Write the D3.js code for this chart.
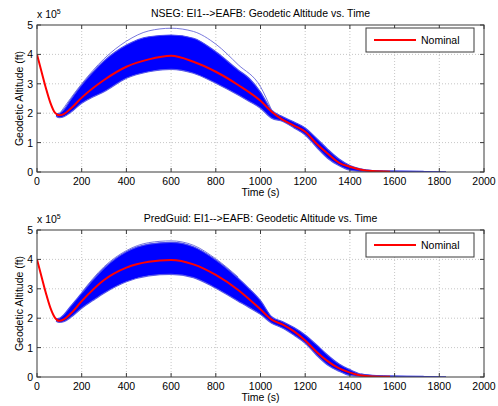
<!DOCTYPE html>
<html>
<head>
<meta charset="utf-8">
<script src="https://cdn.jsdelivr.net/npm/d3@7"></script>
<style>
  body { margin: 0; background: #fff; }
  text { font-family: "Liberation Sans", Arial, sans-serif; font-size: 10.5px; fill: #000; }
</style>
</head>
<body>
<div class="chart"></div>
<script>
// ticks
const xTicks = [0, 200, 400, 600, 800, 1000, 1200, 1400, 1600, 1800, 2000];
const yTicks = [0, 1, 2, 3, 4, 5];

// nominal trajectory (altitude in 1e5 ft)
const nomTime = [0, 20, 40, 60, 80, 100, 120, 150, 200, 300, 400, 500, 600, 700, 800, 900, 1000, 1050, 1100, 1150, 1200, 1250, 1300, 1350, 1400, 1450, 1500, 1580];
const nsegNominal = [4.0, 3.42, 2.85, 2.35, 2.02, 1.93, 1.97, 2.15, 2.53, 3.13, 3.58, 3.83, 3.95, 3.75, 3.41, 2.96, 2.42, 2.05, 1.77, 1.58, 1.37, 0.97, 0.63, 0.32, 0.18, 0.08, 0.03, 0.01];
const predNominal = [4.0, 3.42, 2.85, 2.35, 2.02, 1.91, 1.96, 2.15, 2.58, 3.3, 3.72, 3.92, 3.98, 3.83, 3.47, 2.96, 2.3, 1.95, 1.78, 1.55, 1.24, 0.86, 0.54, 0.3, 0.15, 0.05, 0.02, 0.01];

// dispersion envelope of the monte carlo runs
const bandTime = [85, 100, 120, 150, 200, 250, 300, 400, 500, 600, 700, 800, 900, 950, 1000, 1050, 1100, 1150, 1200, 1250, 1300, 1350, 1400, 1450, 1500, 1600, 1730];
const nsegUpper = [1.98, 2.0, 2.12, 2.45, 2.96, 3.4, 3.78, 4.32, 4.6, 4.66, 4.55, 4.09, 3.47, 3.18, 2.72, 2.1, 1.88, 1.7, 1.5, 1.15, 0.78, 0.45, 0.22, 0.1, 0.05, 0.03, 0.02];
const nsegLower = [1.9, 1.85, 1.88, 2.02, 2.34, 2.55, 2.73, 3.19, 3.41, 3.49, 3.36, 3.02, 2.62, 2.4, 2.17, 1.83, 1.72, 1.5, 1.26, 0.85, 0.47, 0.22, 0.06, 0.02, 0, 0, 0];
const predUpper = [1.98, 2.0, 2.12, 2.4, 2.85, 3.3, 3.7, 4.26, 4.52, 4.58, 4.43, 3.98, 3.36, 3.0, 2.6, 2.05, 1.88, 1.68, 1.43, 1.1, 0.75, 0.45, 0.25, 0.1, 0.06, 0.03, 0.02];
const predLower = [1.9, 1.86, 1.88, 2.02, 2.34, 2.6, 2.85, 3.24, 3.44, 3.49, 3.38, 3.02, 2.58, 2.36, 2.13, 1.83, 1.66, 1.42, 1.15, 0.75, 0.41, 0.2, 0.05, 0.02, 0, 0, 0];

// stray runs outside the dense band
const nsegOutTime = [100, 200, 300, 400, 500, 600, 700, 800, 900, 1000, 1050];
const nsegOutlier = [1.97, 3.0, 3.85, 4.45, 4.8, 4.89, 4.78, 4.35, 3.65, 2.9, 2.1];
const predOutTime = [200, 300, 400, 500, 600, 700, 800, 900];
const predOutlier = [2.88, 3.75, 4.3, 4.57, 4.63, 4.48, 4.02, 3.4];
const tailTime = [1450, 1500, 1600, 1700, 1830];
const tailAlt = [0.1, 0.05, 0.03, 0.02, 0.01];

const svg = d3.select(".chart")
  .append("svg")
  .attr("width", 498)
  .attr("height", 406);

const panels = [
  { title: "NSEG: EI1-->EAFB: Geodetic Altitude vs. Time", top: 25, nominal: nsegNominal, upper: nsegUpper, lower: nsegLower, outTime: nsegOutTime, outlier: nsegOutlier },
  { title: "PredGuid: EI1-->EAFB: Geodetic Altitude vs. Time", top: 230, nominal: predNominal, upper: predUpper, lower: predLower, outTime: predOutTime, outlier: predOutlier }
];

const left = 37, right = 484, plotH = 147;

panels.forEach((p, i) => drawPanel(p, i));

function drawPanel(p, i) {
  const x = d3.scaleLinear().domain([0, 2000]).range([0, right - left]);
  const y = d3.scaleLinear().domain([0, 5]).range([plotH, 0]);
  const w = right - left;

  const g = svg.append("g").attr("transform", `translate(${left},${p.top})`);

  g.append("clipPath").attr("id", "clip" + i)
    .append("rect").attr("width", w).attr("height", plotH);

  // grid
  g.selectAll("line.vgrid").data(xTicks.slice(1, -1)).join("line")
    .attr("x1", d => x(d)).attr("x2", d => x(d))
    .attr("y1", 0).attr("y2", plotH)
    .attr("stroke", "#b8b8b8").attr("stroke-width", 0.8).attr("stroke-dasharray", "1,2");
  g.selectAll("line.hgrid").data(yTicks.slice(1, -1)).join("line")
    .attr("x1", 0).attr("x2", w)
    .attr("y1", d => y(d)).attr("y2", d => y(d))
    .attr("stroke", "#b8b8b8").attr("stroke-width", 0.8).attr("stroke-dasharray", "1,2");

  const plot = g.append("g").attr("clip-path", `url(#clip${i})`);

  const band = bandTime.map((t, k) => ({ t: t, hi: p.upper[k], lo: p.lower[k] }));
  const area = d3.area().x(d => x(d.t)).y0(d => y(d.lo)).y1(d => y(d.hi)).curve(d3.curveMonotoneX);
  const line = d3.line().x(d => x(d[0])).y(d => y(d[1])).curve(d3.curveMonotoneX);

  plot.append("path").datum(band).attr("d", area).attr("fill", "#0000ff");
  plot.append("path").datum(band.map(d => [d.t, d.hi])).attr("d", line)
    .attr("fill", "none").attr("stroke", "#4a4af0").attr("stroke-width", 1.2);
  plot.append("path").datum(band.map(d => [d.t, d.lo])).attr("d", line)
    .attr("fill", "none").attr("stroke", "#5a5ae8").attr("stroke-width", 1.2);
  plot.append("path").datum(p.outTime.map((t, k) => [t, p.outlier[k]])).attr("d", line)
    .attr("fill", "none").attr("stroke", "#6a6ad8").attr("stroke-width", 0.9);
  plot.append("path").datum(tailTime.map((t, k) => [t, tailAlt[k]])).attr("d", line)
    .attr("fill", "none").attr("stroke", "#4040e0").attr("stroke-width", 1);

  // nominal
  plot.append("path").datum(nomTime.map((t, k) => [t, p.nominal[k]]))
    .attr("d", line)
    .attr("fill", "none").attr("stroke", "#ff0000").attr("stroke-width", 2);

  // box and inward ticks
  g.append("rect").attr("width", w).attr("height", plotH)
    .attr("fill", "none").attr("stroke", "#3a3a3a").attr("stroke-width", 1);
  const tk = 4;
  g.selectAll("line.xt").data(xTicks).join("line")
    .attr("x1", d => x(d)).attr("x2", d => x(d)).attr("y1", plotH).attr("y2", plotH - tk)
    .attr("stroke", "#3a3a3a");
  g.selectAll("line.xtt").data(xTicks).join("line")
    .attr("x1", d => x(d)).attr("x2", d => x(d)).attr("y1", 0).attr("y2", tk)
    .attr("stroke", "#3a3a3a");
  g.selectAll("line.yt").data(yTicks).join("line")
    .attr("x1", 0).attr("x2", tk).attr("y1", d => y(d)).attr("y2", d => y(d))
    .attr("stroke", "#3a3a3a");
  g.selectAll("line.ytr").data(yTicks).join("line")
    .attr("x1", w).attr("x2", w - tk).attr("y1", d => y(d)).attr("y2", d => y(d))
    .attr("stroke", "#3a3a3a");

  // tick labels
  g.selectAll("text.xl").data(xTicks).join("text")
    .text(d => d)
    .attr("x", d => x(d)).attr("y", plotH + 13)
    .attr("text-anchor", "middle");
  g.selectAll("text.yl").data(yTicks).join("text")
    .text(d => d)
    .attr("x", -4).attr("y", d => y(d) + 4)
    .attr("text-anchor", "end");

  // exponent
  const ex = g.append("text").attr("x", 0).attr("y", -7);
  ex.append("tspan").text("x 10");
  ex.append("tspan").text("5").attr("dy", -4).style("font-size", "7px");

  // title and axis labels
  g.append("text").text(p.title)
    .attr("x", w / 2).attr("y", -8).attr("text-anchor", "middle");
  g.append("text").text("Time (s)")
    .attr("x", w / 2).attr("y", plotH + 24).attr("text-anchor", "middle");
  g.append("text").text("Geodetic Altitude (ft)")
    .attr("transform", `translate(${-14},${plotH / 2}) rotate(-90)`)
    .attr("text-anchor", "middle");

  // legend
  const lg = g.append("g").attr("transform", `translate(${366 - left},3)`);
  lg.append("rect").attr("width", 108).attr("height", 24)
    .attr("fill", "#fff").attr("stroke", "#3a3a3a").attr("stroke-width", 1);
  lg.append("line").attr("x1", 8).attr("x2", 50).attr("y1", 12).attr("y2", 12)
    .attr("stroke", "#ff0000").attr("stroke-width", 2);
  lg.append("text").text("Nominal").attr("x", 55).attr("y", 16);
}
</script>
</body>
</html>
